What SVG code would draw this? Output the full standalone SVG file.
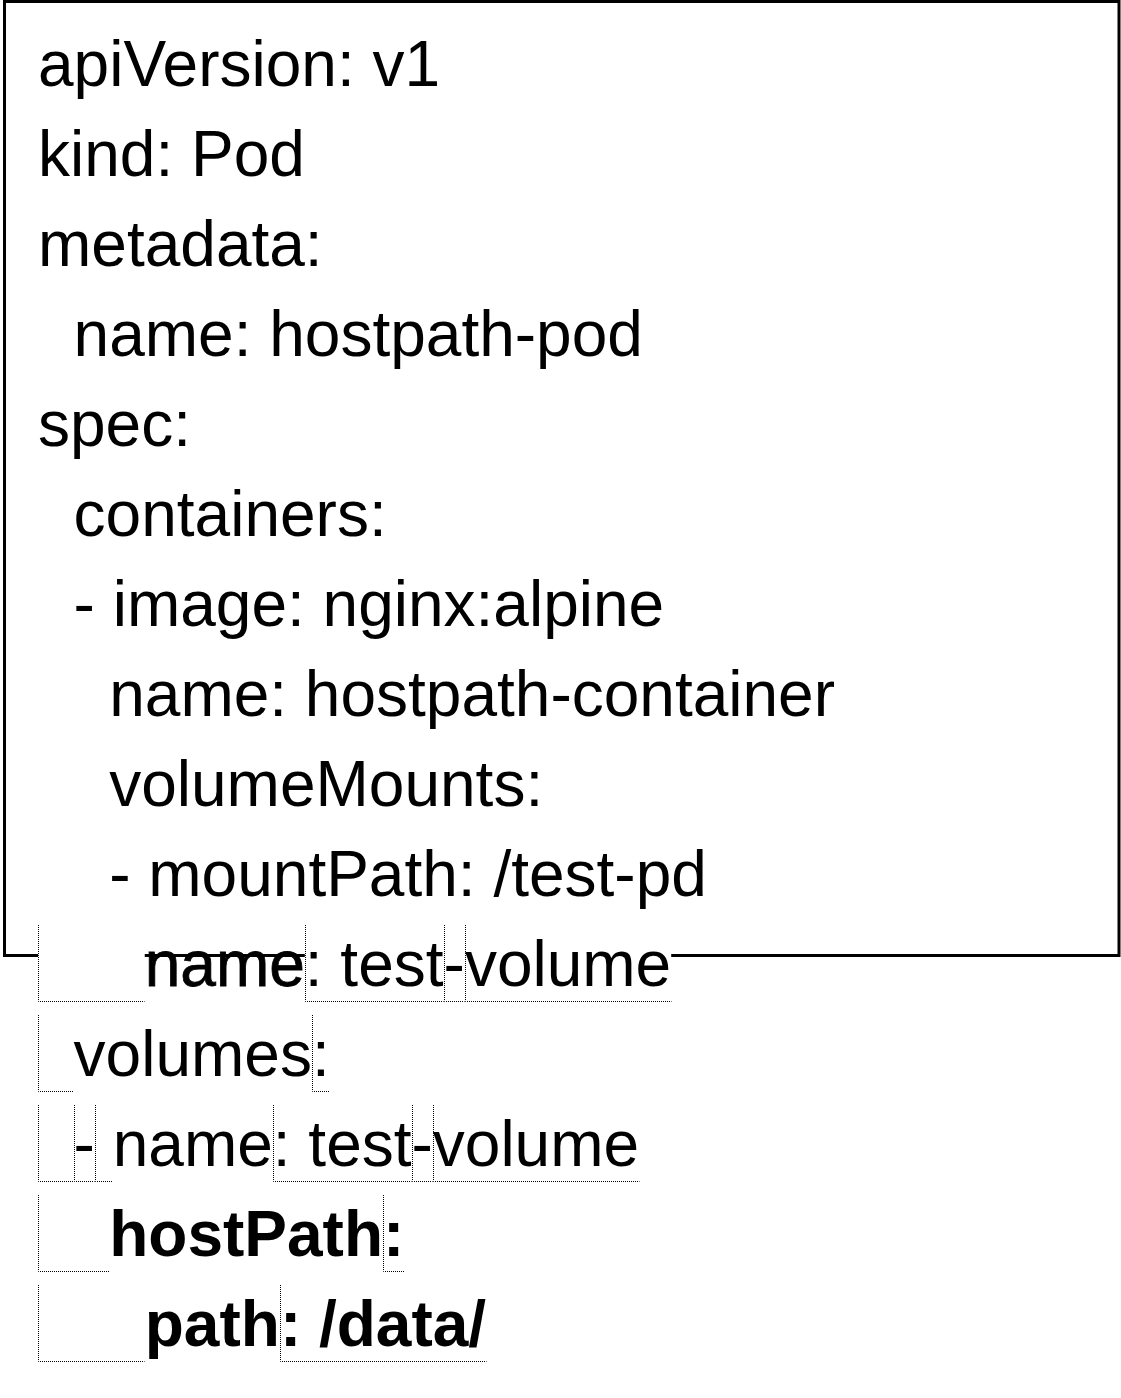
<svg xmlns="http://www.w3.org/2000/svg" width="1121" height="1398" viewBox="0 0 1121 1398">
<style>
.t{font-family:"Liberation Sans",Arial,sans-serif;font-size:64px;fill:#000}
.b{font-weight:bold}
.bg{fill:#fff;stroke:none}
.seg{fill:none;stroke:#000;stroke-width:1;stroke-dasharray:1 1}
.frame{fill:#fff;stroke:#000;stroke-width:3}
</style>
<rect width="1121" height="1398" fill="#fff"/>
<g id="pod-manifest-box">
<rect class="frame" x="4.5" y="1.5" width="1114.5" height="954"/>
<text class="t" x="38" y="86">apiVersion: v1</text>
<text class="t" x="38" y="176">kind: Pod</text>
<text class="t" x="38" y="266">metadata:</text>
<text class="t" x="73.6" y="356">name: hostpath-pod</text>
<text class="t" x="38" y="446">spec:</text>
<text class="t" x="73.6" y="536">containers:</text>
<text class="t" x="73.6" y="626">- image: nginx:alpine</text>
<text class="t" x="109.2" y="716">name: hostpath-container</text>
<text class="t" x="109.2" y="806">volumeMounts:</text>
<text class="t" x="109.2" y="896">- mountPath: /test-pd</text>
</g>
<g id="overflow-lines">
<g id="line-name-test-volume">
<rect class="bg" x="38" y="925" width="106.75" height="77"/>
<rect class="bg" x="304.8" y="925" width="366.4" height="77"/>
<path class="seg" d="M38.5,925V1001.5H144.5M305.5,925V1001.5H443.5M444.5,925V1001.5H464.5M465.5,925V1001.5H671.5"/>
<text class="t" y="986"><tspan x="144.75" stroke="#000" stroke-width="0.8">name</tspan><tspan x="304.8">: test</tspan><tspan x="443.6">-</tspan><tspan x="464.9">volume</tspan></text>
</g>
<g id="line-volumes">
<rect class="bg" x="38" y="1015" width="35.6" height="77"/>
<rect class="bg" x="311.9" y="1015" width="17.8" height="77"/>
<path class="seg" d="M38.5,1015V1091.5H73.5M312.5,1015V1091.5H330"/>
<text class="t" y="1076"><tspan x="73.6">volumes</tspan><tspan x="311.9">:</tspan></text>
</g>
<g id="line-dash-name-test-volume">
<rect class="bg" x="38" y="1105" width="74.7" height="77"/>
<rect class="bg" x="272.8" y="1105" width="366.3" height="77"/>
<path class="seg" d="M38.5,1105V1181.5H73.5M74.5,1105V1181.5H94.5M95.5,1105V1181.5H112.5M273.5,1105V1181.5H411.5M412.5,1105V1181.5H432.5M433.5,1105V1181.5H639.5"/>
<text class="t" y="1166"><tspan x="73.6">-</tspan><tspan x="112.7">name</tspan><tspan x="272.8">: test</tspan><tspan x="411.5">-</tspan><tspan x="432.8">volume</tspan></text>
</g>
<g id="line-hostpath">
<rect class="bg" x="38" y="1195" width="71.2" height="77"/>
<rect class="bg" x="383" y="1195" width="21.3" height="77"/>
<path class="seg" d="M38.5,1195V1271.5H109M383.5,1195V1271.5H404.5"/>
<text class="t b" y="1256"><tspan x="109.2">hostPath</tspan><tspan x="383">:</tspan></text>
</g>
<g id="line-path">
<rect class="bg" x="38" y="1285" width="106.75" height="77"/>
<rect class="bg" x="279.9" y="1285" width="206.3" height="77"/>
<path class="seg" d="M38.5,1285V1361.5H144.5M280.5,1285V1361.5H486.5"/>
<text class="t b" y="1346"><tspan x="144.75">path</tspan><tspan x="279.9">: /data/</tspan></text>
</g>
</g>
<g id="connectors"/>
</svg>
